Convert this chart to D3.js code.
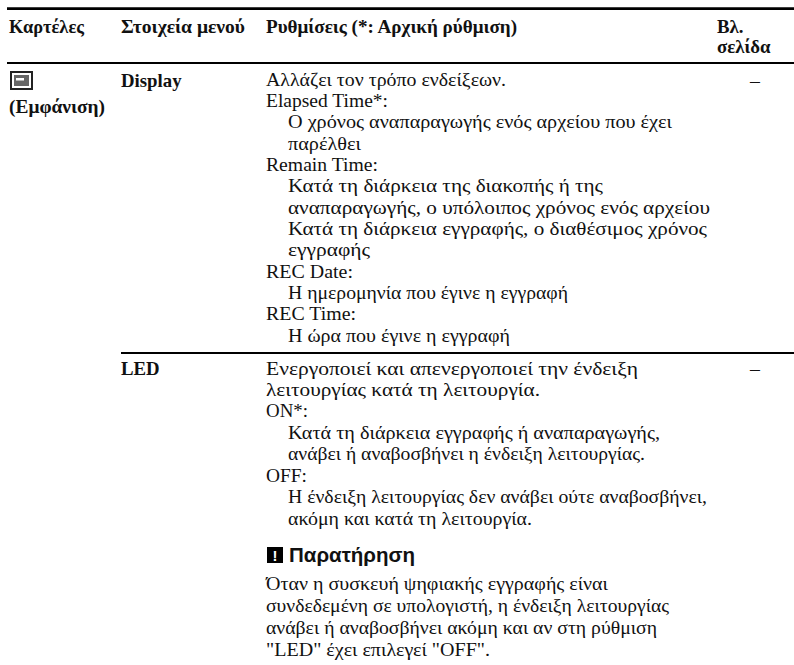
<!DOCTYPE html>
<html>
<head>
<meta charset="utf-8">
<script src="https://cdnjs.cloudflare.com/ajax/libs/d3/7.8.5/d3.min.js"></script>
<style>
html, body { margin: 0; background: #fff; }
text { font-family: "Liberation Serif", serif; fill: #111; }
</style>
</head>
<body>
<div id="table"></div>
<script>
var headers = ["Καρτέλες", "Στοιχεία μενού", "Ρυθμίσεις (*: Αρχική ρύθμιση)"];
var pageHeader = ["Βλ.", "σελίδα"];
var tabLabel = "(Εμφάνιση)";
var items = ["Display", "LED"];
var pageRefs = ["–", "–"];

var displayLines = [
  "Αλλάζει τον τρόπο ενδείξεων.",
  "Elapsed Time*:",
  "Ο χρόνος αναπαραγωγής ενός αρχείου που έχει",
  "παρέλθει",
  "Remain Time:",
  "Κατά τη διάρκεια της διακοπής ή της",
  "αναπαραγωγής, ο υπόλοιπος χρόνος ενός αρχείου",
  "Κατά τη διάρκεια εγγραφής, ο διαθέσιμος χρόνος",
  "εγγραφής",
  "REC Date:",
  "Η ημερομηνία που έγινε η εγγραφή",
  "REC Time:",
  "Η ώρα που έγινε η εγγραφή"
];
var displayIndented = [2, 3, 5, 6, 7, 8, 10, 12];

var ledLines = [
  "Ενεργοποιεί και απενεργοποιεί την ένδειξη",
  "λειτουργίας κατά τη λειτουργία.",
  "ON*:",
  "Κατά τη διάρκεια εγγραφής ή αναπαραγωγής,",
  "ανάβει ή αναβοσβήνει η ένδειξη λειτουργίας.",
  "OFF:",
  "Η ένδειξη λειτουργίας δεν ανάβει ούτε αναβοσβήνει,",
  "ακόμη και κατά τη λειτουργία."
];
var ledIndented = [3, 4, 6, 7];

var noteTitle = "Παρατήρηση";
var noteLines = [
  "Όταν η συσκευή ψηφιακής εγγραφής είναι",
  "συνδεδεμένη σε υπολογιστή, η ένδειξη λειτουργίας",
  "ανάβει ή αναβοσβήνει ακόμη και αν στη ρύθμιση",
  "\"LED\" έχει επιλεγεί \"OFF\"."
];

// layout only: where each line ends on the page
var headerEnds = [84, 245, 517];
var displayEnds = [506, 388, 672, 361, 378, 603, 710, 707, 370, 353, 568, 356, 510];
var ledEnds = [638, 540, 308, 660, 645, 307, 707, 532];
var noteEnds = [608, 669, 657, 490];

var width = 794, height = 665;
var colX = [9, 121, 266, 717];
var fontSize = 19.8, boldSize = 18.8, indent = 22;

var svg = d3.select("#table").append("svg")
    .attr("width", width)
    .attr("height", height)
    .style("display", "block");

// horizontal rules
svg.selectAll("line.rule")
    .data([{y: 8.7, w: 2.7, x: 7}, {y: 63, w: 2, x: 7}, {y: 353, w: 2, x: 121}])
  .enter().append("line")
    .attr("class", "rule")
    .attr("x1", function(d) { return d.x; })
    .attr("x2", width)
    .attr("y1", function(d) { return d.y; })
    .attr("y2", function(d) { return d.y; })
    .attr("stroke", "#000")
    .attr("stroke-width", function(d) { return d.w; });

// header row
svg.selectAll("text.head")
    .data(headers)
  .enter().append("text")
    .attr("class", "head")
    .attr("x", function(d, i) { return colX[i]; })
    .attr("y", 32.5)
    .attr("font-size", boldSize)
    .attr("font-weight", "bold")
    .attr("textLength", function(d, i) { return headerEnds[i] - colX[i]; })
    .attr("lengthAdjust", "spacingAndGlyphs")
    .text(function(d) { return d; });

svg.selectAll("text.pagehead")
    .data(pageHeader)
  .enter().append("text")
    .attr("class", "pagehead")
    .attr("x", colX[3])
    .attr("y", function(d, i) { return 32.5 + i * 20.5; })
    .attr("font-size", boldSize)
    .attr("font-weight", "bold")
    .text(function(d) { return d; });

// block of text lines, y comes from a scale over the line number
function block(lines, indented, ends, y0, step) {
  var y = d3.scaleLinear().domain([0, 1]).range([y0, y0 + step]);
  var left = function(i) { return colX[2] + (indented.indexOf(i) >= 0 ? indent : 0); };
  svg.append("g").selectAll("text")
      .data(lines)
    .enter().append("text")
      .attr("x", function(d, i) { return left(i); })
      .attr("y", function(d, i) { return y(i); })
      .attr("font-size", fontSize)
      .attr("textLength", function(d, i) { return ends[i] - left(i); })
      .attr("lengthAdjust", "spacingAndGlyphs")
      .text(function(d) { return d; });
}
block(displayLines, displayIndented, displayEnds, 85.7, 21.33);
block(ledLines, ledIndented, ledEnds, 374.5, 21.45);
block(noteLines, [], noteEnds, 590, 22);

// first column: tab icon and label
var icon = svg.append("g").attr("transform", "translate(11,72)");
icon.append("rect").attr("width", 21).attr("height", 17).attr("fill", "#fff").attr("stroke", "#222").attr("stroke-width", 2);
icon.append("rect").attr("x", 3).attr("y", 3).attr("width", 15).attr("height", 11).attr("fill", "#666");
icon.append("rect").attr("x", 5).attr("y", 6).attr("width", 8).attr("height", 2.5).attr("fill", "#fff");

svg.append("text")
    .attr("x", colX[0])
    .attr("y", 113)
    .attr("font-size", boldSize)
    .attr("font-weight", "bold")
    .attr("textLength", 96)
    .attr("lengthAdjust", "spacingAndGlyphs")
    .text(tabLabel);

// menu items and page refs
var rowY = [86.5, 375];
svg.selectAll("text.item")
    .data(items)
  .enter().append("text")
    .attr("class", "item")
    .attr("x", colX[1])
    .attr("y", function(d, i) { return rowY[i]; })
    .attr("font-size", boldSize)
    .attr("font-weight", "bold")
    .text(function(d) { return d; });

svg.selectAll("text.ref")
    .data(pageRefs)
  .enter().append("text")
    .attr("class", "ref")
    .attr("x", 755)
    .attr("y", function(d, i) { return rowY[i]; })
    .attr("font-size", fontSize)
    .attr("text-anchor", "middle")
    .text(function(d) { return d; });

// note heading with its little black box
var note = svg.append("g").attr("transform", "translate(267,547)");
note.append("rect").attr("width", 16).attr("height", 16).attr("fill", "#000");
note.append("text")
    .attr("x", 8)
    .attr("y", 14)
    .attr("text-anchor", "middle")
    .attr("font-size", 15)
    .attr("font-weight", "bold")
    .style("font-family", "'Liberation Sans', sans-serif")
    .style("fill", "#fff")
    .text("!");
svg.append("text")
    .attr("x", 289)
    .attr("y", 562)
    .attr("font-size", 20.5)
    .attr("font-weight", "bold")
    .style("font-family", "'Liberation Sans', sans-serif")
    .text(noteTitle);
</script>
</body>
</html>
